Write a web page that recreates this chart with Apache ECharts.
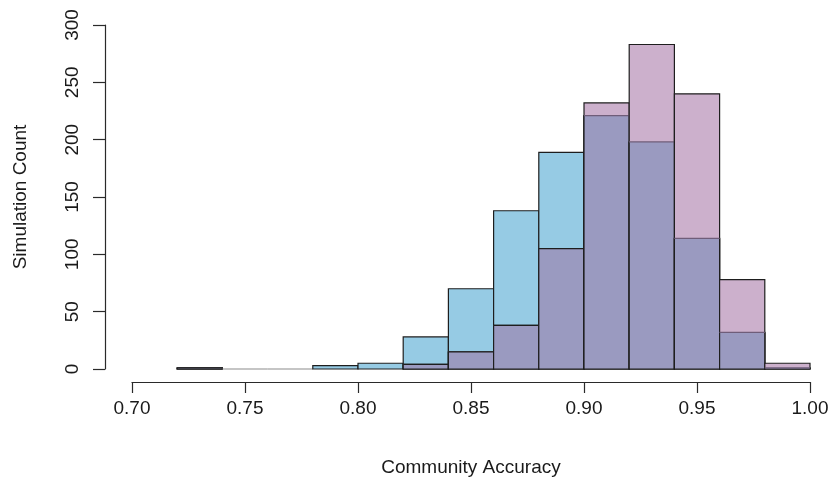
<!DOCTYPE html>
<html>
<head>
<meta charset="utf-8">
<script src="https://cdn.jsdelivr.net/npm/echarts@6/dist/echarts.min.js"></script>
<style>
  html, body { margin: 0; padding: 0; background: #ffffff; }
  #chart { width: 829px; height: 478px; }
</style>
</head>
<body>
<div id="chart"></div>
<script>
// Histogram bins (left edges) and bin width
const binStarts = [0.72, 0.74, 0.76, 0.78, 0.80, 0.82, 0.84, 0.86, 0.88, 0.90, 0.92, 0.94, 0.96, 0.98];
const binWidth = 0.02;

// Counts per bin for the two overlaid distributions
const countsBlue = [1, 0, 0, 3, 5, 28, 70, 138, 189, 221, 198, 114, 32, 1];
const countsPink = [1, 0, 0, 0, 0, 4, 15, 38, 105, 232, 283, 240, 78, 5];

// Axis ticks
const xTickValues = [0.70, 0.75, 0.80, 0.85, 0.90, 0.95, 1.00];
const yTickValues = [0, 50, 100, 150, 200, 250, 300];

const FONT = "'Liberation Sans', Arial, Helvetica, sans-serif";
const TEXT_COLOR = '#1a1a1a';
const BLUE = 'rgb(150,203,228)';
const PINK = 'rgb(204,176,204)';
const OVERLAP = 'rgb(154,154,192)';
const EDGE = '#1e1e1e';

const rows = binStarts.map((s, i) => [s, s + binWidth, countsBlue[i], countsPink[i]]);

function renderBin(params, api) {
  const x0 = api.value(0), x1 = api.value(1);
  const a = api.value(2), b = api.value(3);
  const base = api.coord([x0, 0]);
  const right = api.coord([x1, 0])[0];
  const left = base[0];
  const y0 = base[1];
  const yA = api.coord([x0, a])[1];
  const yB = api.coord([x0, b])[1];
  const yMin = api.coord([x0, Math.min(a, b)])[1];
  const w = right - left;
  const children = [];

  if (a === 0 && b === 0) {
    children.push({
      type: 'line',
      shape: { x1: left, y1: y0, x2: right, y2: y0 },
      style: { stroke: '#8c8c8c', lineWidth: 1.2 }
    });
    return { type: 'group', children };
  }

  if (a > 0) {
    children.push({
      type: 'rect',
      shape: { x: left, y: yA, width: w, height: y0 - yA },
      style: { fill: BLUE, stroke: EDGE, lineWidth: 1.2 }
    });
  }
  if (b > 0) {
    children.push({
      type: 'rect',
      shape: { x: left, y: yB, width: w, height: y0 - yB },
      style: { fill: PINK, stroke: EDGE, lineWidth: 1.2 }
    });
  }
  // shared part of both bars
  if (a > 0 && b > 0) {
    children.push({
      type: 'rect',
      shape: { x: left, y: yMin, width: w, height: y0 - yMin },
      style: { fill: OVERLAP, stroke: null }
    });
    children.push({
      type: 'polyline',
      shape: { points: [[left, yMin], [left, y0], [right, y0], [right, yMin]] },
      style: { stroke: EDGE, lineWidth: 1.2, fill: null }
    });
    // top edge of the lower bar: sharp when the pink bar is lower, faded when under pink
    children.push({
      type: 'line',
      shape: { x1: left, y1: yMin, x2: right, y2: yMin },
      style: { stroke: b <= a ? EDGE : '#6f5d79', lineWidth: 1.2 }
    });
  }
  return { type: 'group', children };
}

const chart = echarts.init(document.getElementById('chart'), null, { renderer: 'canvas' });

chart.setOption({
  animation: false,
  backgroundColor: '#ffffff',
  grid: { left: 132, right: 19, top: 25, bottom: 109, containLabel: false, outerBoundsMode: 'none' },
  xAxis: {
    type: 'value',
    min: xTickValues[0],
    max: xTickValues[xTickValues.length - 1],
    interval: 0.05,
    offset: 13,
    name: 'Community Accuracy',
    nameLocation: 'middle',
    nameGap: 76,
    nameTextStyle: { fontFamily: FONT, fontSize: 19, color: TEXT_COLOR },
    axisLine: { show: true, onZero: false, lineStyle: { color: '#2a2a2a', width: 1.2 } },
    axisTick: { show: true, length: 11, lineStyle: { color: '#2a2a2a', width: 1.2 } },
    axisLabel: {
      fontFamily: FONT, fontSize: 19, color: TEXT_COLOR, margin: 17,
      formatter: v => v.toFixed(2)
    },
    splitLine: { show: false }
  },
  yAxis: {
    type: 'value',
    min: yTickValues[0],
    max: yTickValues[yTickValues.length - 1],
    interval: 50,
    offset: 27,
    name: 'Simulation Count',
    nameLocation: 'middle',
    nameRotate: 90,
    nameGap: 75,
    nameTextStyle: { fontFamily: FONT, fontSize: 19, color: TEXT_COLOR },
    axisLine: { show: true, onZero: false, lineStyle: { color: '#2a2a2a', width: 1.2 } },
    axisTick: { show: true, length: 12, lineStyle: { color: '#2a2a2a', width: 1.2 } },
    axisLabel: {
      fontFamily: FONT, fontSize: 19, color: TEXT_COLOR, margin: 23, rotate: 90
    },
    splitLine: { show: false }
  },
  series: [{
    type: 'custom',
    renderItem: renderBin,
    encode: { x: [0, 1], y: [2, 3] },
    data: rows,
    clip: false
  }]
});
</script>
</body>
</html>
